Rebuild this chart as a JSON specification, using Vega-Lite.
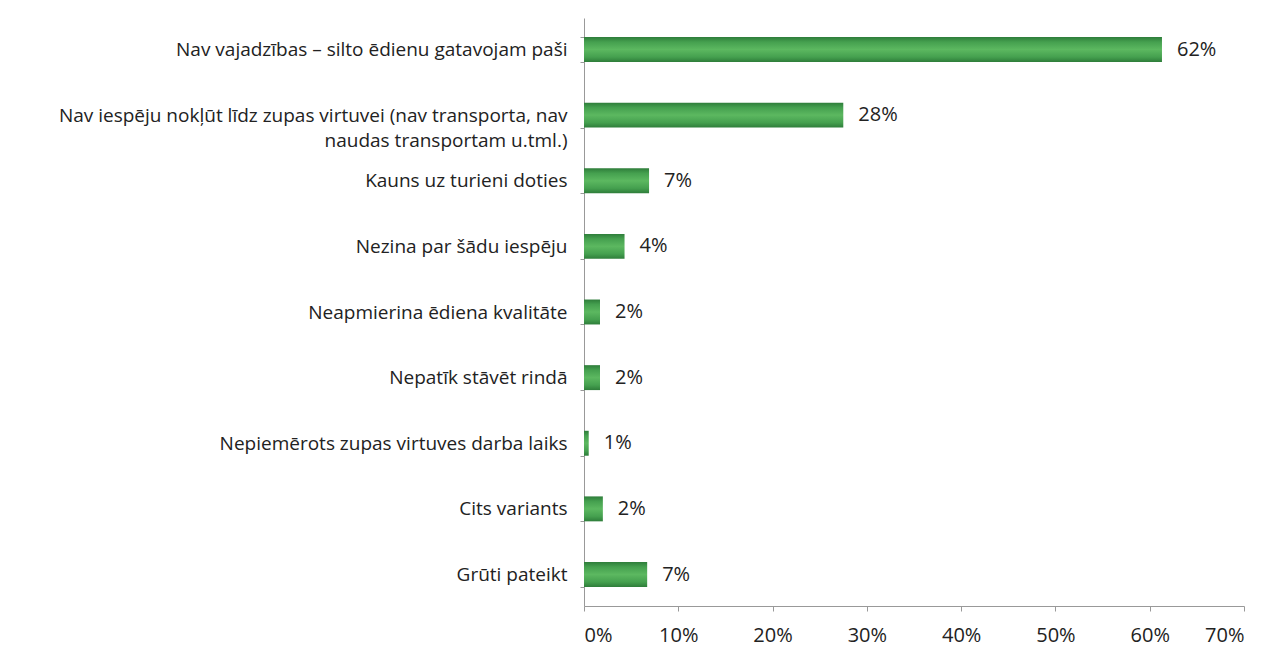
{
  "$schema": "https://vega.github.io/schema/vega-lite/v6.json",
  "autosize": {"type": "none"},
  "width": 660,
  "height": 588,
  "padding": {"left": 584, "top": 18, "right": 25, "bottom": 42},
  "background": "white",
  "config": {"view": {"stroke": null}, "font": "Open Sans"},
  "data": {
    "values": [
      {"reason": "Nav vajadzības – silto ēdienu gatavojam paši", "value": 0.613, "label": "62%"},
      {"reason": "Nav iespēju nokļūt līdz zupas virtuvei (nav transporta, nav|naudas transportam u.tml.)", "value": 0.275, "label": "28%"},
      {"reason": "Kauns uz turieni doties", "value": 0.069, "label": "7%"},
      {"reason": "Nezina par šādu iespēju", "value": 0.043, "label": "4%"},
      {"reason": "Neapmierina ēdiena kvalitāte", "value": 0.017, "label": "2%"},
      {"reason": "Nepatīk stāvēt rindā", "value": 0.017, "label": "2%"},
      {"reason": "Nepiemērots zupas virtuves darba laiks", "value": 0.005, "label": "1%"},
      {"reason": "Cits variants", "value": 0.02, "label": "2%"},
      {"reason": "Grūti pateikt", "value": 0.067, "label": "7%"}
    ]
  },
  "encoding": {
    "y": {
      "field": "reason",
      "type": "nominal",
      "sort": null,
      "scale": {"paddingInner": 0.62, "paddingOuter": 0.29},
      "axis": {
        "title": null,
        "labelExpr": "split(datum.label, '|')",
        "labelFontSize": 19,
        "labelColor": "#222222",
        "labelPadding": 13,
        "labelLimit": 620,
        "labelLineHeight": 25,
        "tickBand": "extent",
        "tickSize": 4,
        "tickColor": "#999999",
        "domainColor": "#999999",
        "grid": false
      }
    },
    "x": {
      "field": "value",
      "type": "quantitative",
      "scale": {"domain": [0, 0.7], "nice": false},
      "axis": {
        "title": null,
        "format": ".0%",
        "values": [0, 0.1, 0.2, 0.3, 0.4, 0.5, 0.6, 0.7],
        "labelFontSize": 20,
        "labelColor": "#222222",
        "labelPadding": 14,
        "tickSize": 5,
        "tickColor": "#999999",
        "domainColor": "#999999",
        "grid": false
      }
    }
  },
  "layer": [
    {
      "mark": {
        "type": "bar",
        "color": {
          "gradient": "linear",
          "x1": 0, "y1": 0, "x2": 0, "y2": 1,
          "stops": [
            {"offset": 0, "color": "#2e7d3a"},
            {"offset": 0.2, "color": "#45a04f"},
            {"offset": 0.5, "color": "#5cb860"},
            {"offset": 0.8, "color": "#45a04f"},
            {"offset": 1, "color": "#2e7d3a"}
          ]
        }
      }
    },
    {
      "mark": {"type": "text", "align": "left", "baseline": "middle", "dx": 15, "fontSize": 20, "color": "#222222"},
      "encoding": {"text": {"field": "label"}}
    }
  ]
}
